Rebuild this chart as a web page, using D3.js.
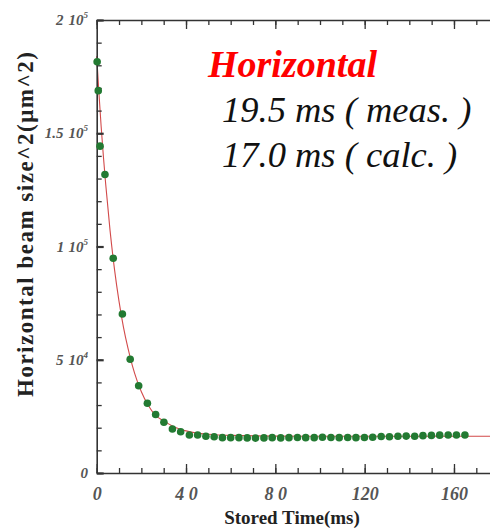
<!DOCTYPE html>
<html>
<head>
<meta charset="utf-8">
<script src="https://cdn.jsdelivr.net/npm/d3@7"></script>
<style>
  body { margin: 0; background: #fff; }
  svg text { font-family: "Liberation Serif", "DejaVu Serif", serif; }
</style>
</head>
<body>
<div id="chart"></div>
<script>
var timeMs = [0.2, 0.7, 1.5, 3.7, 7.4, 11.5, 15.0, 18.8, 22.7, 26.4, 30.1, 33.9, 37.6, 41.5,
    45.2, 48.9, 52.6, 56.3, 60.0, 63.7, 67.4, 71.1, 74.9, 78.6, 82.4, 86.1, 89.9, 93.6,
    97.4, 101.1, 104.9, 108.6, 112.4, 116.1, 119.9, 123.6, 127.4, 131.1, 134.9, 138.6,
    142.4, 146.1, 149.9, 153.6, 157.4, 161.1, 164.9];
var beamSize2 = [181600, 168800, 144300, 131800, 94800, 70200, 50200, 38500, 30800, 25800,
    22400, 19400, 18200, 16800, 16800, 16200, 16000, 15600, 15600, 15600, 15500, 15400,
    15500, 15600, 15500, 15600, 15700, 15600, 15600, 15800, 15700, 15600, 15700, 15600,
    15700, 15800, 16100, 16000, 16200, 16300, 16200, 16500, 16600, 16700, 16800, 16800, 16800];

// fitted curve (red line)
var fitTime = [0, 1, 2, 3, 4, 6, 8, 10, 12, 14, 16, 18, 20, 23, 26, 30, 35, 40, 45, 50, 60, 80, 120, 180];
var fitSize2 = [184000, 167800, 152900, 139700, 127800, 106900, 89700, 75800, 64300, 55100,
    47300, 41000, 35900, 30000, 25800, 23000, 20200, 18600, 17600, 17100, 16600, 16300, 16200, 16200];

var xTickValues = [0, 40, 80, 120, 160];
var xTickLabels = ["0", "4 0", "8 0", "120", "160"];
var yTickValues = [0, 50000, 100000, 150000, 200000];
var yTickMantissa = ["0", "5", "1", "1.5", "2"];
var yTickExponent = ["", "4", "5", "5", "5"];

var noteTitle = "Horizontal";
var noteLines = ["19.5 ms ( meas. )", "17.0 ms ( calc. )"];

var width = 490, height = 530;
var x0 = 96.7, yTop = 20, yBottom = 473;
var pxPerMs = 2.233;

var svg = d3.select("#chart")
    .append("svg")
    .attr("width", width)
    .attr("height", height)
    .style("background", "#fff");

var x = d3.scaleLinear().domain([0, 180]).range([x0, x0 + 180 * pxPerMs]);
var y = d3.scaleLinear().domain([0, 200000]).range([yBottom, yTop]);

//fit line
var line = d3.line()
    .x(function(d) { return x(d[0]); })
    .y(function(d) { return y(d[1]); })
    .curve(d3.curveMonotoneX);

svg.append("path")
    .datum(fitTime.map(function(t, i) { return [t, fitSize2[i]]; }))
    .attr("d", line)
    .attr("fill", "none")
    .attr("stroke", "#d24a4a")
    .attr("stroke-width", 1.1);

//axes
function styleAxis(g) {
    g.attr("color", "#333");
    g.select(".domain").attr("stroke-width", 1.6);
    g.selectAll(".tick line").attr("stroke-width", 1.3);
}

var minorX = d3.range(0, 181, 10);
var minorY = d3.range(0, 200001, 10000);

svg.append("g")
    .attr("transform", "translate(0," + yBottom + ")")
    .call(d3.axisBottom(x).tickValues(minorX).tickSize(-5).tickSizeOuter(0).tickFormat(""))
    .call(styleAxis);

var xMajor = svg.append("g")
    .attr("transform", "translate(0," + yBottom + ")")
    .call(d3.axisBottom(x).tickValues(xTickValues).tickSize(-9).tickSizeOuter(0)
        .tickFormat(function(d, i) { return xTickLabels[i]; }))
    .call(styleAxis);
xMajor.select(".domain").remove();
xMajor.selectAll("text")
    .attr("y", 27)
    .attr("dy", 0)
    .attr("fill", "#555")
    .style("font-style", "italic")
    .style("font-weight", "bold")
    .style("font-size", "18px");

svg.append("g")
    .attr("transform", "translate(0," + yTop + ")")
    .call(d3.axisTop(x).tickValues(minorX).tickSize(-5).tickSizeOuter(0).tickFormat(""))
    .call(styleAxis);

var topMajor = svg.append("g")
    .attr("transform", "translate(0," + yTop + ")")
    .call(d3.axisTop(x).tickValues(xTickValues).tickSize(-9).tickSizeOuter(0).tickFormat(""))
    .call(styleAxis);
topMajor.select(".domain").remove();

svg.append("g")
    .attr("transform", "translate(" + x0 + ",0)")
    .call(d3.axisLeft(y).tickValues(minorY).tickSize(-5).tickSizeOuter(0).tickFormat(""))
    .call(styleAxis);

var yMajor = svg.append("g")
    .attr("transform", "translate(" + x0 + ",0)")
    .call(d3.axisLeft(y).tickValues(yTickValues).tickSize(-7).tickSizeOuter(0).tickFormat(""))
    .call(styleAxis);
yMajor.select(".domain").remove();
yMajor.selectAll(".tick line").attr("stroke-width", 2.2);

//y tick labels with powers of ten
yTickValues.forEach(function(v, i) {
    var t = svg.append("text")
        .attr("x", 88)
        .attr("y", y(v) + 5)
        .attr("text-anchor", "end")
        .attr("fill", "#555")
        .style("font-style", "italic")
        .style("font-weight", "bold")
        .style("font-size", "15px");
    t.append("tspan").text(yTickMantissa[i]);
    if (yTickExponent[i]) {
        t.append("tspan").attr("dx", 5).text("10");
        t.append("tspan").attr("dy", -7).style("font-size", "9px").text(yTickExponent[i]);
    }
});

//data points
svg.selectAll("circle.pt")
    .data(timeMs)
    .enter()
    .append("circle")
    .attr("class", "pt")
    .attr("cx", function(d) { return x(d); })
    .attr("cy", function(d, i) { return y(beamSize2[i]); })
    .attr("r", 3.8)
    .attr("fill", "#237a32");

//axis titles
svg.append("text")
    .attr("x", 292)
    .attr("y", 524)
    .attr("text-anchor", "middle")
    .attr("fill", "#222")
    .style("font-weight", "bold")
    .style("font-size", "19px")
    .text("Stored Time(ms)");

svg.append("text")
    .attr("transform", "translate(33,224.5) rotate(-90)")
    .attr("text-anchor", "middle")
    .attr("fill", "#222")
    .attr("textLength", 345)
    .attr("lengthAdjust", "spacing")
    .style("font-weight", "bold")
    .style("font-size", "23px")
    .text("Horizontal beam size^2(\u03bcm^2)");

//annotation
svg.append("text")
    .attr("x", 208)
    .attr("y", 77)
    .attr("fill", "#f00")
    .style("font-weight", "bold")
    .style("font-style", "italic")
    .style("font-size", "38px")
    .text(noteTitle);

noteLines.forEach(function(s, i) {
    svg.append("text")
        .attr("x", 222)
        .attr("y", 122 + i * 45)
        .attr("fill", "#111")
        .style("font-style", "italic")
        .style("font-size", "36.5px")
        .text(s);
});
</script>
</body>
</html>
